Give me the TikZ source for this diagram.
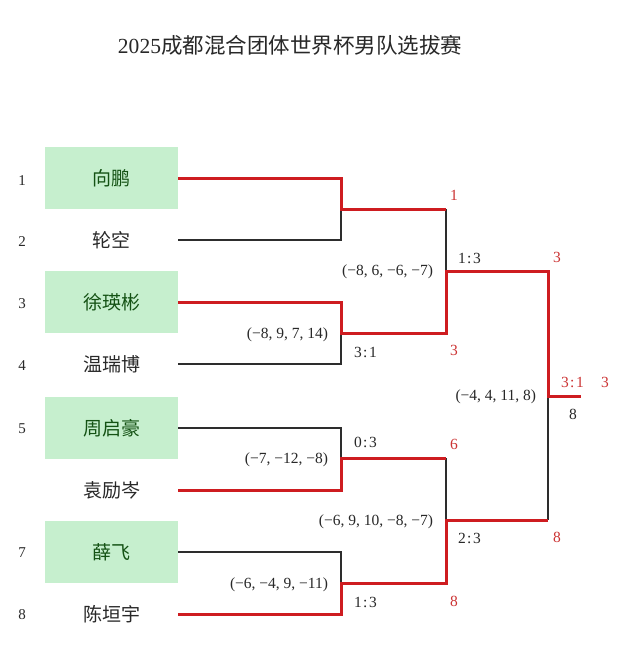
\documentclass[tikz,border=0pt]{standalone}
\usepackage{fontspec}
\usepackage{tikz}
\setmainfont{Liberation Serif}
\newfontfamily\cjk{Noto Sans CJK SC}
\definecolor{winred}{RGB}{206,28,32}
\definecolor{redtext}{RGB}{204,52,52}
\definecolor{goodfill}{RGB}{198,239,206}
\definecolor{goodtext}{RGB}{20,82,20}
\definecolor{linegray}{RGB}{45,45,45}
\definecolor{txtgray}{RGB}{40,40,40}
\newcommand{\res}[2]{#1\kern1.5bp:\kern1.5bp#2}

\begin{document}
\begin{tikzpicture}[x=1bp,y=-1bp,inner sep=0pt,outer sep=0pt,
  player/.style={minimum width=133bp,minimum height=62bp,text=txtgray,
    font=\fontsize{19bp}{22bp}\selectfont\cjk},
  seeded/.style={player,fill=goodfill,text=goodtext},
  seedno/.style={text=txtgray,font=\fontsize{15bp}{17bp}\selectfont},
  score/.style={text=txtgray,font=\fontsize{15.5bp}{18bp}\selectfont},
  redno/.style={text=redtext,font=\fontsize{15.5bp}{18bp}\selectfont},
  win/.style={draw=winred,line width=3bp},
  lose/.style={draw=linegray,line width=1.5bp}]
  \useasboundingbox (0,0) rectangle (640,662);
  \fill[white] (0,0) rectangle (640,662);
  % title
  \node (title) at (290,45) {\fontsize{21.5bp}{24bp}\selectfont\color{txtgray}2025{\cjk 成都混合团体世界杯男队选拔赛}};
  % players
  \node[seeded] (p1) at (111.5,178) {向鹏};
  \node[player] (p2) at (111.5,240) {轮空};
  \node[seeded] (p3) at (111.5,302) {徐瑛彬};
  \node[player] (p4) at (111.5,364) {温瑞博};
  \node[seeded] (p5) at (111.5,428) {周启豪};
  \node[player] (p6) at (111.5,490) {袁励岑};
  \node[seeded] (p7) at (111.5,552) {薛飞};
  \node[player] (p8) at (111.5,614) {陈垣宇};
  % seed numbers
  \node[seedno] (n1) at (22,181) {1};
  \node[seedno] (n2) at (22,242) {2};
  \node[seedno] (n3) at (22,304) {3};
  \node[seedno] (n4) at (22,366) {4};
  \node[seedno] (n5) at (22,429) {5};
  \node[seedno] (n7) at (22,553) {7};
  \node[seedno] (n8) at (22,615) {8};
  % junctions
  \coordinate (m1) at (341,209);
  \coordinate (m2) at (341,333);
  \coordinate (m3) at (341,458);
  \coordinate (m4) at (341,583);
  \coordinate (r1) at (446,209);
  \coordinate (r2) at (446,333);
  \coordinate (r3) at (446,458);
  \coordinate (r4) at (446,583);
  \coordinate (s1) at (446,271);
  \coordinate (s2) at (446,520);
  \coordinate (f1) at (548,271);
  \coordinate (f2) at (548,520);
  \coordinate (fm) at (548,396);
  \coordinate (champ) at (581,396);
  % losing paths
  \draw[lose] (p2.east) -| (m1);
  \draw[lose] (p4.east) -| (m2);
  \draw[lose] (p5.east) -| (m3);
  \draw[lose] (p7.east) -| (m4);
  \draw[lose] (r1) -- (s1);
  \draw[lose] (r3) -- (s2);
  \draw[lose] (f2) -- (fm);
  % winning paths
  \draw[win] (p1.east) -| (m1) -- (r1);
  \draw[win] (p3.east) -| (m2) -- (r2) -- (s1) -- (f1) -- (fm) -- (champ);
  \draw[win] (p6.east) -| (m3) -- (r3);
  \draw[win] (p8.east) -| (m4) -- (r4) -- (s2) -- (f2);
  % round 1
  \node[score,anchor=east] (g2) at (328,335) {(−8, 9, 7, 14)};
  \node[score,anchor=west] (g2r) at (354,352) {\res31};
  \node[score,anchor=east] (g3) at (328,460) {(−7, −12, −8)};
  \node[score,anchor=west] (g3r) at (354,442) {\res03};
  \node[score,anchor=east] (g4) at (328,585) {(−6, −4, 9, −11)};
  \node[score,anchor=west] (g4r) at (354,602) {\res13};
  \node[redno,anchor=west] (w1) at (450,195) {1};
  \node[redno,anchor=west] (w2) at (450,350) {3};
  \node[redno,anchor=west] (w3) at (450,444) {6};
  \node[redno,anchor=west] (w4) at (450,601) {8};
  % semifinals
  \node[score,anchor=east] (h1) at (433,272) {(−8, 6, −6, −7)};
  \node[score,anchor=west] (h1r) at (458,258) {\res13};
  \node[score,anchor=east] (h2) at (433,522) {(−6, 9, 10, −8, −7)};
  \node[score,anchor=west] (h2r) at (458,538) {\res23};
  \node[redno,anchor=west] (v1) at (553,257) {3};
  \node[redno,anchor=west] (v2) at (553,537) {8};
  % final
  \node[score,anchor=east] (fs) at (536,397) {(−4, 4, 11, 8)};
  \node[redno,anchor=west] (fr) at (561,382) {\res31};
  \node[redno,anchor=west] (fw) at (601,382) {3};
  \node[score,anchor=west] (fl) at (569,414) {8};
\end{tikzpicture}
\end{document}
